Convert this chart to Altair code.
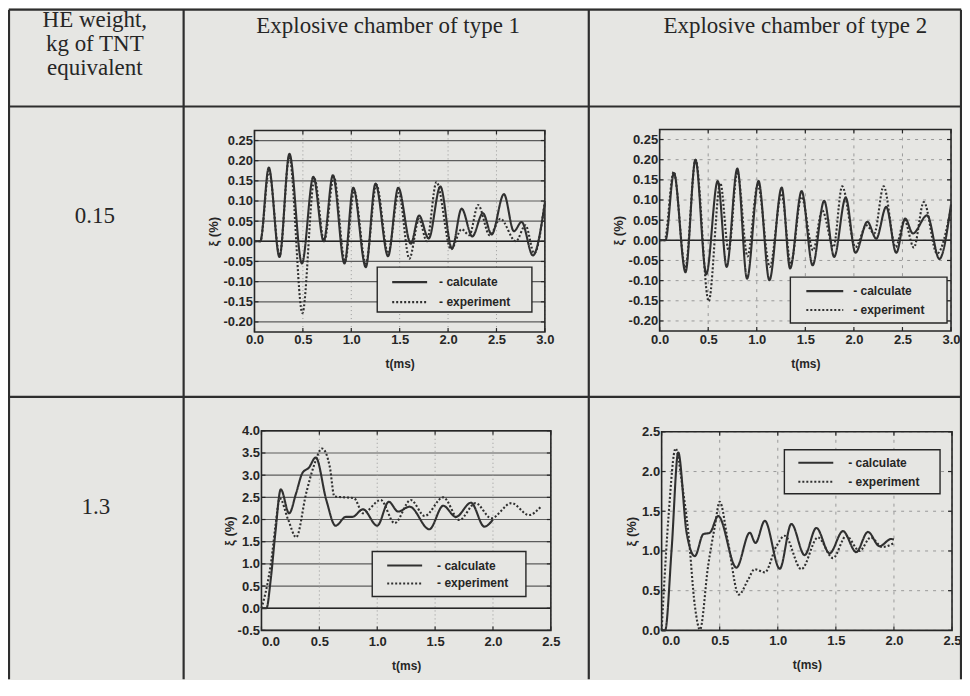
import altair as alt
import pandas as pd

# ---------------- data ----------------
corner_label = ["HE weight,", "kg of TNT", "equivalent"]
col_labels = ["Explosive chamber of type 1", "Explosive chamber of type 2"]
row_labels = ["0.15", "1.3"]
series_names = ["calculate", "experiment"]
legend_texts = ["- calculate", "- experiment"]

ticks_x_3 = [0.0, 0.5, 1.0, 1.5, 2.0, 2.5, 3.0]
ticks_x_25 = [0.0, 0.5, 1.0, 1.5, 2.0, 2.5]
ticks_y_small = [-0.20, -0.15, -0.10, -0.05, 0.0, 0.05, 0.10, 0.15, 0.20, 0.25]
ticks_y_p3 = [-0.5, 0.0, 0.5, 1.0, 1.5, 2.0, 2.5, 3.0, 3.5, 4.0]
ticks_y_p4 = [0.0, 0.5, 1.0, 1.5, 2.0, 2.5]

# 0.15 kg, chamber type 1
p1_calc_t = [0.0, 0.06, 0.148, 0.258, 0.361, 0.49, 0.608, 0.715, 0.81, 0.93, 1.02, 1.15, 1.25, 1.38,
             1.485, 1.615, 1.70, 1.80, 1.92, 2.04, 2.14, 2.25, 2.36, 2.45, 2.577, 2.68, 2.76, 2.876, 3.0]
p1_calc_v = [0.0, 0.0, 0.183, -0.039, 0.217, -0.055, 0.16, 0.0, 0.164, -0.055, 0.133, -0.064, 0.143, -0.037,
             0.133, -0.006, 0.064, 0.007, 0.136, -0.018, 0.081, 0.012, 0.07, 0.017, 0.117, 0.025, 0.048, -0.035, 0.095]
p1_exp_t = [0.0, 0.06, 0.15, 0.26, 0.36, 0.495, 0.62, 0.72, 0.82, 0.935, 1.03, 1.15, 1.26, 1.38, 1.49,
            1.60, 1.70, 1.78, 1.88, 2.03, 2.14, 2.22, 2.31, 2.43, 2.54, 2.70, 2.80, 2.89, 3.0]
p1_exp_v = [0.0, 0.0, 0.175, -0.035, 0.21, -0.178, 0.155, 0.0, 0.16, -0.05, 0.125, -0.055, 0.14, -0.03, 0.12,
            -0.043, 0.055, 0.0, 0.147, -0.02, 0.03, 0.015, 0.09, 0.015, 0.056, 0.0, 0.04, -0.03, 0.10]

# 0.15 kg, chamber type 2
p2_calc_t = [0.0, 0.06, 0.147, 0.266, 0.369, 0.48, 0.598, 0.69, 0.80, 0.90, 1.018, 1.13, 1.257, 1.343,
             1.462, 1.575, 1.694, 1.797, 1.916, 2.016, 2.139, 2.23, 2.333, 2.436, 2.528, 2.607, 2.754, 2.88, 3.0]
p2_calc_v = [0.0, 0.0, 0.167, -0.079, 0.20, -0.084, 0.147, -0.066, 0.178, -0.095, 0.147, -0.099, 0.131, -0.07,
             0.122, -0.062, 0.098, -0.041, 0.106, -0.031, 0.046, 0.004, 0.083, -0.031, 0.054, 0.017, 0.062, -0.046, 0.089]
p2_exp_t = [0.0, 0.05, 0.145, 0.265, 0.37, 0.505, 0.625, 0.71, 0.80, 0.905, 1.01, 1.135, 1.255, 1.35, 1.46,
            1.58, 1.674, 1.79, 1.879, 2.016, 2.13, 2.21, 2.306, 2.43, 2.52, 2.617, 2.72, 2.856, 3.0]
p2_exp_v = [0.0, 0.0, 0.17, -0.068, 0.20, -0.151, 0.142, -0.025, 0.17, -0.04, 0.137, -0.066, 0.116, -0.058, 0.108,
            -0.025, 0.074, -0.017, 0.134, -0.017, 0.037, 0.017, 0.134, -0.017, 0.05, -0.018, 0.095, -0.033, 0.08]

# 1.3 kg, chamber type 1
p3_calc_t = [0.0, 0.043, 0.08, 0.12, 0.167, 0.239, 0.30, 0.354, 0.41, 0.469, 0.56, 0.64, 0.73, 0.785,
             0.877, 1.0, 1.10, 1.18, 1.28, 1.45, 1.57, 1.68, 1.81, 1.925, 2.0]
p3_calc_v = [0.0, 0.0, 0.65, 1.7, 2.68, 2.14, 2.6, 3.05, 3.17, 3.40, 2.44, 1.86, 2.06, 2.06,
             2.23, 1.86, 2.40, 2.18, 2.29, 1.78, 2.31, 2.06, 2.38, 1.84, 2.0]
p3_exp_t = [0.0, 0.05, 0.086, 0.12, 0.158, 0.23, 0.30, 0.386, 0.45, 0.524, 0.59, 0.63, 0.72, 0.80, 0.877,
            1.03, 1.15, 1.29, 1.41, 1.57, 1.71, 1.85, 1.985, 2.16, 2.31, 2.41]
p3_exp_v = [0.0, 0.53, 1.09, 1.84, 2.48, 2.0, 1.60, 2.59, 3.19, 3.60, 3.19, 2.52, 2.50, 2.48, 2.14,
            2.44, 1.92, 2.44, 2.08, 2.50, 1.99, 2.37, 2.03, 2.37, 2.10, 2.28]

# 1.3 kg, chamber type 2
p4_calc_t = [0.0, 0.03, 0.086, 0.143, 0.215, 0.286, 0.358, 0.415, 0.487, 0.644, 0.759, 0.808, 0.888,
             1.017, 1.117, 1.231, 1.332, 1.446, 1.561, 1.675, 1.776, 1.876, 1.976, 2.0]
p4_calc_v = [0.0, 0.0, 1.02, 2.24, 1.23, 0.935, 1.21, 1.23, 1.44, 0.79, 1.23, 1.10, 1.38,
             0.776, 1.34, 0.948, 1.29, 0.97, 1.25, 0.986, 1.24, 1.06, 1.15, 1.145]
p4_exp_t = [0.0, 0.015, 0.06, 0.12, 0.18, 0.23, 0.286, 0.33, 0.40, 0.458, 0.50, 0.573, 0.664, 0.745,
            0.80, 0.888, 0.988, 1.06, 1.203, 1.346, 1.475, 1.59, 1.704, 1.80, 1.90, 2.0]
p4_exp_v = [0.0, 0.4, 1.45, 2.29, 1.8, 1.23, 0.31, 0.01, 0.81, 1.31, 1.62, 1.10, 0.45, 0.64,
            0.77, 0.73, 1.06, 1.19, 0.77, 1.17, 0.91, 1.19, 1.0, 1.17, 1.05, 1.10]

# ---------------- layout / style ----------------
W, H = 956, 672
BG = "#e6e6e3"
INK = "#262626"
LINE = "#303030"
SANS = "Liberation Sans"
SERIF = "Liberation Serif"
ONE = pd.DataFrame({"k": [0]})

GRID = {
    "dark": (dict(color="#5c5c5c", strokeWidth=1.2), dict(color="#9a9a9a", strokeWidth=1, strokeDash=[1, 3])),
    "light": (dict(color="#9a9a9a", strokeWidth=1, strokeDash=[3, 5]), dict(color="#9a9a9a", strokeWidth=1, strokeDash=[3, 5])),
}

panels = [
    dict(box=(247, 538, 122, 324), xdom=[0, 3], ydom=[-0.225, 0.275], xticks=ticks_x_3, yticks=ticks_y_small,
         xfmt=".1f", yfmt=".2f", calc=(p1_calc_t, p1_calc_v), exp=(p1_exp_t, p1_exp_v),
         grid="dark", zero=True, lp=2, ytp=2, flush0=False,
         legend=dict(box=(370, 525, 259, 304), sample=(385, 420), text=432, rows=(274, 294))),
    dict(box=(653, 945, 121, 323), xdom=[0, 3], ydom=[-0.225, 0.275], xticks=ticks_x_3, yticks=ticks_y_small,
         xfmt=".1f", yfmt=".2f", calc=(p2_calc_t, p2_calc_v), exp=(p2_exp_t, p2_exp_v),
         grid="light", zero=True, lp=3, ytp=3, flush0=False,
         legend=dict(box=(784, 941, 269, 315), sample=(800, 837), text=847, rows=(283, 302))),
    dict(box=(254, 544, 423, 623), xdom=[0, 2.5], ydom=[-0.5, 4.0], xticks=ticks_x_25, yticks=ticks_y_p3,
         xfmt=".1f", yfmt=".1f", calc=(p3_calc_t, p3_calc_v), exp=(p3_exp_t, p3_exp_v),
         grid="dark", zero=True, lp=5, ytp=1, flush0=True,
         legend=dict(box=(365, 519, 544, 589), sample=(380, 415), text=430, rows=(558, 576))),
    dict(box=(655, 946, 424, 623), xdom=[0, 2.5], ydom=[0, 2.5], xticks=ticks_x_25, yticks=ticks_y_p4,
         xfmt=".1f", yfmt=".1f", calc=(p4_calc_t, p4_calc_v), exp=(p4_exp_t, p4_exp_v),
         grid="light", zero=False, lp=4, ytp=3, flush0=True,
         legend=dict(box=(778, 934, 442, 486), sample=(792, 827), text=842, rows=(455, 474))),
]


def fmt_expr(f):
    return f"datum.value < 0 ? '-' + format(-datum.value, '{f}') : format(datum.value, '{f}')"


def rule_px(x, x2, y, y2, **kw):
    return alt.Chart(ONE).mark_rule(**kw).encode(
        x=alt.value(x), x2=alt.value(x2), y=alt.value(y), y2=alt.value(y2))


def text_px(x, y, txt, **kw):
    return alt.Chart(ONE).mark_text(**kw).encode(x=alt.value(x), y=alt.value(y), text=alt.value(txt))


def panel_layers(p):
    L, R, T, B = p["box"]
    xs = alt.Scale(domain=p["xdom"], range=[L, R], nice=False, zero=False)
    ys = alt.Scale(domain=p["ydom"], range=[B, T], nice=False, zero=False)
    hstyle, vstyle = GRID[p["grid"]]
    out = []
    hg = pd.DataFrame({"v": p["yticks"]})
    vg = pd.DataFrame({"t": p["xticks"]})
    out.append(alt.Chart(hg).mark_rule(**hstyle).encode(
        y=alt.Y("v:Q", scale=ys, axis=None), x=alt.value(L), x2=alt.value(R)))
    out.append(alt.Chart(vg).mark_rule(**vstyle).encode(
        x=alt.X("t:Q", scale=xs, axis=None), y=alt.value(T), y2=alt.value(B)))
    if p["zero"]:
        out.append(alt.Chart(pd.DataFrame({"v": [0.0]})).mark_rule(color=INK, strokeWidth=1.6).encode(
            y=alt.Y("v:Q", scale=ys, axis=None), x=alt.value(L), x2=alt.value(R)))
    # inward ticks
    for (y0, y1) in [(B, B - 4), (T, T + 4)]:
        out.append(alt.Chart(vg).mark_rule(color=INK, strokeWidth=1.2).encode(
            x=alt.X("t:Q", scale=xs, axis=None), y=alt.value(y0), y2=alt.value(y1)))
    for (x0, x1) in [(L, L + 4), (R - 4, R)]:
        out.append(alt.Chart(hg).mark_rule(color=INK, strokeWidth=1.2).encode(
            y=alt.Y("v:Q", scale=ys, axis=None), x=alt.value(x0), x2=alt.value(x1)))
    # frame
    out.append(alt.Chart(ONE).mark_rect(fillOpacity=0, stroke=INK, strokeWidth=1.6).encode(
        x=alt.value(L), x2=alt.value(R), y=alt.value(T), y2=alt.value(B)))
    # curves
    tc, vc = p["calc"]
    te, ve = p["exp"]
    df = pd.DataFrame({
        "t": list(tc) + list(te),
        "v": list(vc) + list(ve),
        "s": [series_names[0]] * len(tc) + [series_names[1]] * len(te),
    })
    xkw = {}
    if p["flush0"]:
        xkw["labelAlign"] = {"condition": {"test": "datum.value == 0", "value": "left"}, "value": "center"}
    xaxis = alt.Axis(orient="bottom", offset=B - H, values=p["xticks"], labelExpr=fmt_expr(p["xfmt"]),
                     domain=False, ticks=False, grid=False, labelPadding=p["lp"], labelFont=SANS,
                     labelFontSize=13, labelFontWeight="bold", labelColor=INK, labelFlush=False,
                     labelOverlap=False, labelBound=False, title="t(ms)", titleFont=SANS,
                     titleFontSize=12, titleFontWeight="bold", titleColor=INK, titlePadding=12, **xkw)
    yaxis = alt.Axis(orient="left", offset=-L, values=p["yticks"], labelExpr=fmt_expr(p["yfmt"]),
                     domain=False, ticks=False, grid=False, labelPadding=2, labelFont=SANS,
                     labelFontSize=13, labelFontWeight="bold", labelColor=INK, labelFlush=False,
                     labelOverlap=False, labelBound=False, title="ξ (%)", titleFont=SANS,
                     titleFontSize=13, titleFontWeight="bold", titleColor=INK, titlePadding=p["ytp"])
    out.append(alt.Chart(df).mark_line(interpolate="monotone", color=LINE, strokeWidth=2.1).encode(
        x=alt.X("t:Q", scale=xs, axis=xaxis),
        y=alt.Y("v:Q", scale=ys, axis=yaxis),
        strokeDash=alt.StrokeDash("s:N", scale=alt.Scale(domain=series_names, range=[[1, 0], [2, 2]]), legend=None),
    ))
    # legend box
    lg = p["legend"]
    bx0, bx1, by0, by1 = lg["box"]
    out.append(alt.Chart(ONE).mark_rect(fill=BG, stroke=INK, strokeWidth=1.4).encode(
        x=alt.value(bx0), x2=alt.value(bx1), y=alt.value(by0), y2=alt.value(by1)))
    s0, s1 = lg["sample"]
    r0, r1 = lg["rows"]
    out.append(rule_px(s0, s1, r0, r0, color=LINE, strokeWidth=2.1))
    out.append(rule_px(s0, s1, r1, r1, color=LINE, strokeWidth=2.1, strokeDash=[2, 2]))
    out.append(text_px(lg["text"], r0, legend_texts[0], align="left", baseline="middle", font=SANS,
                       fontSize=12, fontWeight="bold", color=INK))
    out.append(text_px(lg["text"], r1, legend_texts[1], align="left", baseline="middle", font=SANS,
                       fontSize=12, fontWeight="bold", color=INK))
    return out


# ---------------- table ----------------
TL = dict(color="#2e2e2e", strokeWidth=2.2)
table = [
    rule_px(1, 1, 1, H, **TL),
    rule_px(176, 176, 1, H, **TL),
    rule_px(582, 582, 1, H, **TL),
    rule_px(955, 955, 1, H, **TL),
    rule_px(1, 955, 1, 1, **TL),
    rule_px(1, 955, 98, 98, **TL),
    rule_px(1, 955, 389, 389, **TL),
]
TXT = dict(align="center", baseline="alphabetic", font=SERIF, fontSize=23, color=INK)
for i, s in enumerate(corner_label):
    table.append(text_px(87, 18 + 24 * i, s, **TXT))
table.append(text_px(381, 24, col_labels[0], **TXT))
table.append(text_px(789, 24, col_labels[1], **TXT))
table.append(text_px(87, 215, row_labels[0], **TXT))
table.append(text_px(88, 506, row_labels[1], **TXT))

layers = list(table)
for p in panels:
    layers += panel_layers(p)

chart = alt.layer(*layers).resolve_scale(
    x="independent", y="independent"
).properties(
    width=W, height=H, padding=0,
    autosize=alt.AutoSizeParams(type="none"),
    background=BG,
).configure_view(strokeWidth=0)

chart.save("out.html", embed_options={"renderer": "svg", "actions": False})
